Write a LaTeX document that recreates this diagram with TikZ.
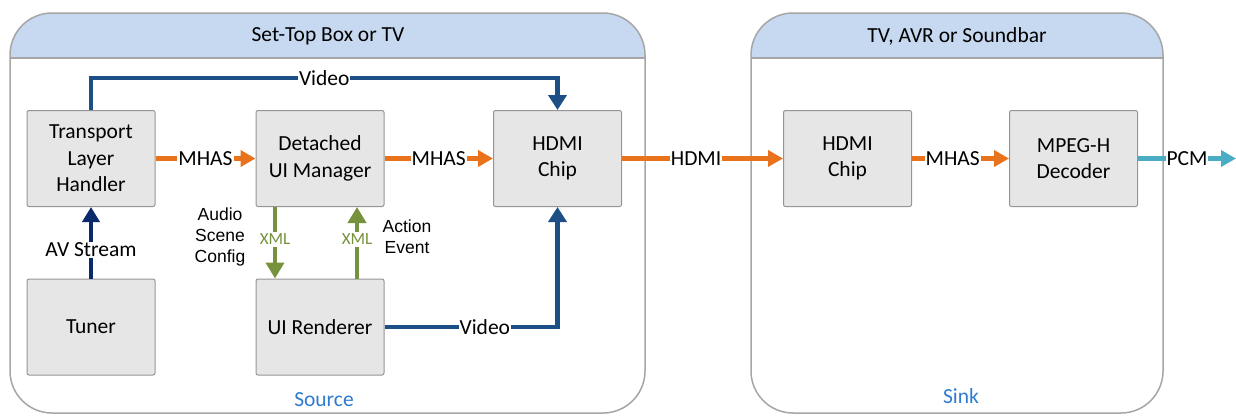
\documentclass[tikz,border=0pt]{standalone}
\usepackage{fontspec}
\setmainfont{Carlito}
\newfontfamily\arialf{Liberation Sans}
\usetikzlibrary{arrows.meta}
\definecolor{orng}{HTML}{E8731C}
\definecolor{vblue}{HTML}{1B4F85}
\definecolor{navy}{HTML}{0A2A6B}
\definecolor{grn}{HTML}{76923C}
\definecolor{cyn}{HTML}{4BACC6}
\definecolor{hdr}{HTML}{C6D9F0}
\definecolor{bordgray}{HTML}{A6A6A6}
\definecolor{boxfill}{HTML}{E6E6E6}
\definecolor{boxdraw}{HTML}{959595}
\definecolor{lblue}{HTML}{2E7BCF}
\tikzset{
  mainfont/.style={font=\fontsize{21.5}{26.5}\selectfont},
  blk/.style={draw=boxdraw, fill=boxfill, line width=1pt, rounded corners=2pt,
    minimum width=128pt, minimum height=96pt, align=center, inner sep=0pt, mainfont},
  lbl/.style={fill=white, inner sep=1pt, mainfont, text=black},
  xlbl/.style={fill=white, inner sep=2pt, font=\fontsize{17}{20}\selectfont, text=grn},
  side/.style={align=center, font=\arialf\fontsize{17.5}{21}\selectfont},
  oarr/.style={draw=orng, line width=4.5pt, -{Triangle[length=15pt,width=16pt]}},
  varr/.style={draw=vblue, line width=4.5pt, -{Triangle[length=15pt,width=18pt]}},
  narr/.style={draw=navy, line width=4.5pt, -{Triangle[length=15pt,width=17pt]}},
  garr/.style={draw=grn, line width=4.5pt, -{Triangle[length=16pt,width=18pt]}},
  carr/.style={draw=cyn, line width=4.5pt, -{Triangle[length=15pt,width=16pt]}},
  cont/.style={draw=bordgray, line width=1.5pt, rounded corners=42pt},
}
\begin{document}
\begin{tikzpicture}[x=1pt,y=-1pt]
\useasboundingbox (0,0) rectangle (1236,415);
% containers
\begin{scope}
  \clip (0,0) rectangle (1236,58);
  \fill[hdr, rounded corners=42pt] (10,13) rectangle (645,413);
  \fill[hdr, rounded corners=42pt] (751,13) rectangle (1163,413);
\end{scope}
\draw[cont] (10,13) rectangle (645,413);
\draw[cont] (751,13) rectangle (1163,413);
\draw[draw=bordgray, line width=1.5pt] (10,58) -- (645,58);
\draw[draw=bordgray, line width=1.5pt] (751,58) -- (1163,58);
\node[mainfont] (hdrL) at (328,36) {Set-Top Box or TV};
\node[mainfont] (hdrR) at (957,36) {TV, AVR or Soundbar};
\node[mainfont, text=lblue] (src) at (324,400) {Source};
\node[mainfont, text=lblue] (snk) at (961,396) {Sink};
% blocks
\node[blk] (tlh) at (91,158.5) {Transport\\Layer\\Handler};
\node[blk] (dum) at (320,158.5) {Detached\\UI Manager};
\node[blk] (hdmi1) at (557.5,158.5) {HDMI\\Chip};
\node[blk] (tuner) at (91,327) {Tuner};
\node[blk] (uir) at (320,327) {UI Renderer};
\node[blk] (hdmi2) at (847.5,158.5) {HDMI\\Chip};
\node[blk] (mpeg) at (1073.5,158.5) {MPEG-H\\Decoder};
\coordinate (pcmend) at (1236,158.5);
% connectors
\draw[oarr] (tlh.east) -- node[lbl]{MHAS} (dum.west);
\draw[oarr] (dum.east) -- node[lbl]{MHAS} (hdmi1.west);
\draw[oarr] (hdmi1.east) -- node[lbl, pos=0.46]{HDMI} (hdmi2.west);
\draw[oarr] (hdmi2.east) -- node[lbl, pos=0.42]{MHAS} (mpeg.west);
\draw[carr] (mpeg.east) -- node[lbl, pos=0.5]{PCM} (pcmend);
\draw[narr] (tuner.north) -- node[lbl, pos=0.4]{AV Stream} (tlh.south);
\draw[varr] (tlh.north) -- (tlh.north |- 0,78) -| node[lbl, pos=0.25]{Video} (hdmi1.north);
\draw[varr] (uir.east) -| node[lbl, pos=0.29]{Video} (hdmi1.south);
\draw[garr] (dum.south -| 275,0) -- node[xlbl, pos=0.45]{XML} (uir.north -| 275,0);
\draw[garr] (uir.north -| 357,0) -- node[xlbl, pos=0.55]{XML} (dum.south -| 357,0);
\node[side] (asc) at (220,237) {Audio\\Scene\\Config};
\node[side] (ae) at (407,237) {Action\\Event};
\end{tikzpicture}
\end{document}
